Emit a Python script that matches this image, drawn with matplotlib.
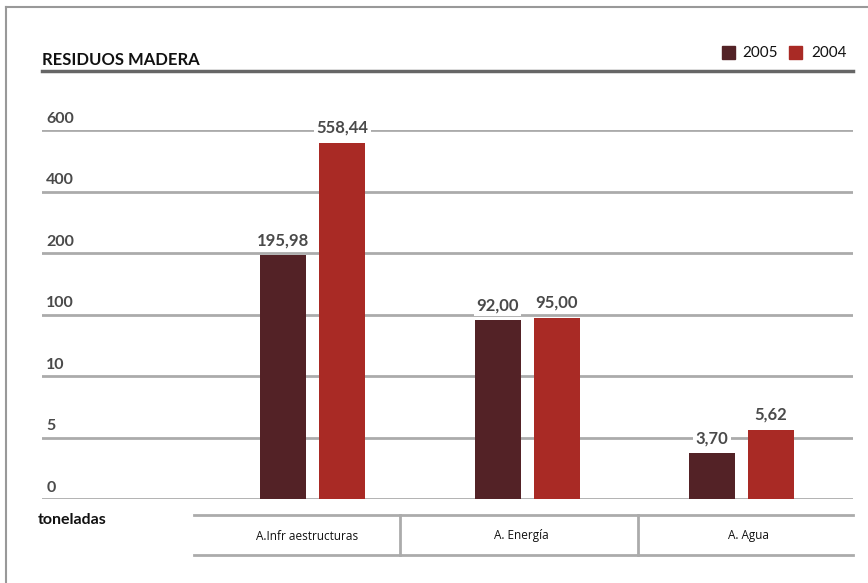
import numpy as np
import matplotlib
matplotlib.use("Agg")
import matplotlib.pyplot as plt
from matplotlib.patches import Rectangle
from matplotlib.lines import Line2D
import matplotlib.transforms as mtransforms

# ---- data ----
categories = ["A.Infr aestructuras", "A. Energía", "A. Agua"]
series_names = ["2005", "2004"]
values_2005 = [195.98, 92.00, 3.70]
values_2004 = [558.44, 95.00, 5.62]
y_ticks = [0, 5, 10, 100, 200, 400, 600]
y_tick_labels = ["0", "5", "10", "100", "200", "400", "600"]
title = "RESIDUOS MADERA"
unit_label = "toneladas"

col_2005 = "#532226"
col_2004 = "#a92a25"
grid_col = "#ababab"
txt_gray = "#4a4a4a"

W, H = 868, 583
fig = plt.figure(figsize=(W / 100, H / 100), dpi=100)
plt.rcParams['font.family'] = ['Lato', 'DejaVu Sans']

def fx(px):
    return px / W

def fy(py):
    return 1 - py / H

# axes: x 42..853, y 130..499 px
ax = fig.add_axes([fx(42), fy(499), fx(853) - fx(42), fy(130) - fy(499)])

idx = np.arange(len(y_ticks), dtype=float)
def fwd(v):
    return np.interp(v, y_ticks, idx)
def inv(p):
    return np.interp(p, idx, y_ticks)
ax.set_yscale('function', functions=(fwd, inv))
ax.set_ylim(0, 600)

unit = 214.5
ax.set_xlim((42 - 312.5) / unit, (853 - 312.5) / unit)

x = np.arange(len(categories))
bw = 46 / unit
off = 29.5 / unit

# gridlines
for v in y_ticks:
    ax.axhline(v, color=grid_col, lw=2, zorder=1)
for v, lab in zip(y_ticks, y_tick_labels):
    ax.annotate(lab, xy=(0, v), xycoords=ax.get_yaxis_transform(),
                xytext=(3, 3), textcoords='offset points',
                ha='left', va='bottom', fontsize=11.5, fontweight='bold',
                color=txt_gray)

b1 = ax.bar(x - off, values_2005, width=bw, color=col_2005, zorder=2)
b2 = ax.bar(x + off, values_2004, width=bw, color=col_2004, zorder=2)

for bars, vals in ((b1, values_2005), (b2, values_2004)):
    for rect, v in zip(bars, vals):
        ax.annotate(f"{v:.2f}".replace('.', ','),
                    xy=(rect.get_x() + rect.get_width() / 2, v),
                    xytext=(0, 5), textcoords='offset points',
                    ha='center', va='bottom', fontsize=12, fontweight='bold',
                    color=txt_gray, zorder=3,
                    bbox=dict(boxstyle='square,pad=0.15', fc='white', ec='none'))

for s in ax.spines.values():
    s.set_visible(False)
ax.set_xticks([])
ax.set_yticks([])
ax.patch.set_alpha(0)

# category table below
trans = mtransforms.blended_transform_factory(ax.transData, fig.transFigure)
xl = (194 - 312.5) / unit
xr = (853 - 312.5) / unit
for py in (515, 555):
    ax.add_line(Line2D([xl, xr], [fy(py), fy(py)], transform=trans,
                       color=grid_col, lw=2, clip_on=False))
for px in (400, 638):
    xs = (px - 312.5) / unit
    ax.add_line(Line2D([xs, xs], [fy(515), fy(555)], transform=trans,
                       color=grid_col, lw=2, clip_on=False))
label_x = [(307 - 312.5) / unit, (521 - 312.5) / unit, (748 - 312.5) / unit]
for lx, cat in zip(label_x, categories):
    ax.text(lx, fy(536), cat, transform=trans, ha='center', va='center',
            fontsize=8.5, color='#111111', family=['Open Sans', 'DejaVu Sans'])

fig.text(fx(38), fy(520), unit_label, ha='left', va='center',
         fontsize=11.5, fontweight='bold', color='#111111')

# title and underline
fig.text(fx(42), fy(65), title, ha='left', va='baseline',
         fontsize=12, fontweight='bold', color='#111111')
fig.add_artist(Line2D([fx(42), fx(853)], [fy(71), fy(71)],
                      transform=fig.transFigure, color='#666666', lw=2.5))

# legend
for sx, tx, col, name in ((722, 742, col_2005, series_names[0]),
                          (789, 811, col_2004, series_names[1])):
    fig.add_artist(Rectangle((fx(sx), fy(59)), fx(13), 13 / H,
                             transform=fig.transFigure, color=col))
    fig.text(fx(tx), fy(53), name, ha='left', va='center',
             fontsize=11, color='#111111')

# frame
fig.add_artist(Line2D([fx(6), fx(6)], [fy(7), 0], transform=fig.transFigure,
                      color='#999999', lw=1.5))
fig.add_artist(Line2D([fx(6), 1], [fy(7), fy(7)], transform=fig.transFigure,
                      color='#999999', lw=1.5))

fig.savefig("out.png", dpi=100)
